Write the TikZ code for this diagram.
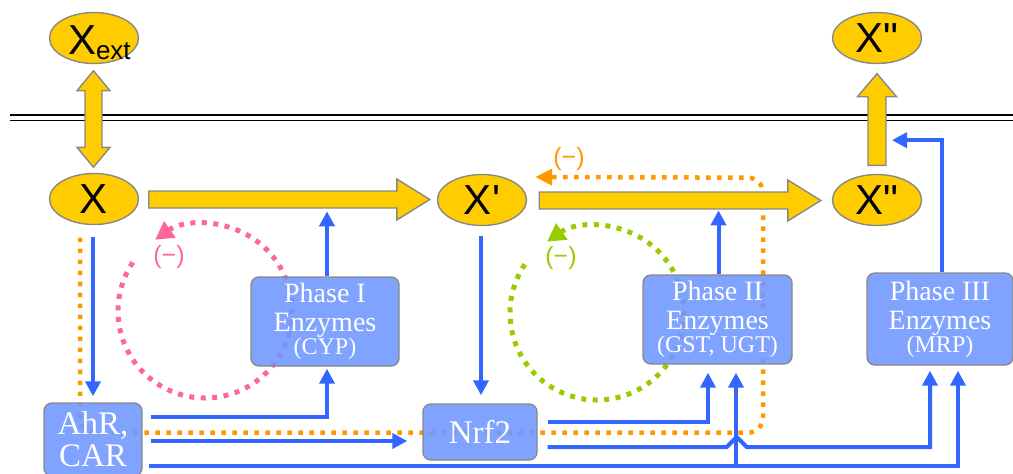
\documentclass[tikz,border=0pt]{standalone}
\usepackage{fontspec}
\setmainfont{Liberation Serif}
\newfontfamily\ellfont{Liberation Sans}[Ligatures=TeXOff]
\usetikzlibrary{arrows.meta,calc,shapes.geometric}
\definecolor{gold}{HTML}{FFCC00}
\definecolor{bl}{HTML}{3366FF}
\definecolor{boxc}{HTML}{6E96FF}
\definecolor{orng}{HTML}{FF9900}
\definecolor{pnk}{HTML}{FF6699}
\definecolor{grn}{HTML}{99CC00}
\definecolor{edge}{HTML}{888888}
\pgfdeclarelayer{back}
\pgfsetlayers{back,main}
\tikzset{
 ell/.style={ellipse, draw=edge, line width=1.4pt, fill=gold, minimum width=89pt, minimum height=51pt, inner sep=0pt, font=\ellfont\fontsize{42}{42}\selectfont},
 enz/.style={rounded corners=8pt, draw=edge, line width=1.4pt, fill=boxc, fill opacity=0.88, text opacity=1, text=white, align=center, inner sep=0pt, font=\fontsize{28}{29}\selectfont},
 blu/.style={draw=bl, line width=4pt, -{Triangle[width=15pt,length=15pt]}},
 fat/.style={draw=edge, line width=1.4pt, fill=gold, line join=miter},
 dots/.style={line width=5pt, dash pattern=on 5pt off 6.5pt},
 odots/.style={line width=4.5pt, dash pattern=on 4.5pt off 6.5pt},
 dottip/.style={-{Triangle[width=19pt,length=18pt]}},
 neg/.style={font=\ellfont\fontsize{25}{25}\selectfont, inner sep=0pt},
 membrane/.style={line width=1.8pt, draw=black},
}
% horizontal fat arrow: start, tip
\newcommand\hfat[2]{%
 \draw[fat] let \p1=#1, \p2=#2 in
  (\x1,{\y1+8.5pt}) -- ({\x2-33pt},{\y1+8.5pt}) -- ({\x2-33pt},{\y1+20.5pt}) -- (\x2,\y1)
  -- ({\x2-33pt},{\y1-20.5pt}) -- ({\x2-33pt},{\y1-8.5pt}) -- (\x1,{\y1-8.5pt}) -- cycle;}
\begin{document}
\begin{tikzpicture}[x=1pt,y=1pt]
\path[use as bounding box] (0,0) rectangle (1013,-474);

% ellipses
\node[ell] (Xext) at (94,-38) {\makebox[0pt][l]{\hspace*{-26pt}\raisebox{-16pt}[0pt][0pt]{X\raisebox{-5pt}{\fontsize{26}{26}\selectfont ext}}}};
\node[ell] (X) at (94,-199) {X};
\node[ell] (Xp) at (482,-200) {X'};
\node[ell] (Xpp) at (877,-200) {X"};
\node[ell] (Xout) at (877,-38) {X"};

% enzyme / receptor boxes
\node[enz, minimum width=98pt, minimum height=73pt, font=\fontsize{33}{32}\selectfont] (AhR) at (93,-439.5) {AhR,\\CAR};
\node[enz, minimum width=148pt, minimum height=89pt] (P1) at (325,-321.5) {Phase I\\Enzymes\\[-6pt]{\fontsize{24}{24}\selectfont (CYP)}};
\node[enz, minimum width=114pt, minimum height=56pt, font=\fontsize{33}{32}\selectfont] (Nrf2) at (480,-432) {Nrf2};
\node[enz, minimum width=149pt, minimum height=89pt] (P2) at (717.5,-319.5) {Phase II\\Enzymes\\[-6pt]{\fontsize{24}{24}\selectfont (GST, UGT)}};
\node[enz, minimum width=146pt, minimum height=92pt] (P3) at (940,-319) {Phase III\\Enzymes\\[-6pt]{\fontsize{24}{24}\selectfont (MRP)}};

% labels
\node[neg, text=pnk] (n1) at (169,-257) {(−)};
\node[neg, text=grn] (n2) at (561,-258) {(−)};
\node[neg, text=orng] (n3) at (569,-159) {(−)};

\begin{pgfonlayer}{back}
 \draw[membrane] (10,-115) -- (1013,-115);
 \draw[membrane] (10,-120.5) -- (1013,-120.5);
 \coordinate (C1) at (205,-311);
 \coordinate (C2) at (597,-313);
 \draw[dots, pnk, dottip] ($(C1)+(146:87)$) arc[start angle=146, end angle=485, radius=87];
 \draw[dots, grn, dottip] ($(C2)+(146:87)$) arc[start angle=146, end angle=485, radius=87];
 \draw[odots, orng, rounded corners=15pt, -{Triangle[width=16pt,length=17pt]}]
   ($(X.south)+(-14,-12.5)$) -- ++(0,-195) -- ++(683,0) -- ++(0,255) -- ($(Xp.east)+(8,23)$);
\end{pgfonlayer}

% fat transport / reaction arrows
\hfat{($(X.east)+(9.5,-0.5)$)}{($(Xp.west)+(-7,0)$)}
\hfat{($(Xp.east)+(12,-0.5)$)}{($(Xpp.west)+(-11,0)$)}
\draw[fat] let \p1=($(Xpp.north)+(0,8.5)$), \p2=($(Xout.south)+(0,-9.5)$) in
  ({\x1-9pt},\y1) -- ({\x1-9pt},{\y2-23pt}) -- ({\x1-19.5pt},{\y2-23pt}) -- (\x1,\y2)
  -- ({\x1+19.5pt},{\y2-23pt}) -- ({\x1+9pt},{\y2-23pt}) -- ({\x1+9pt},\y1) -- cycle;
\draw[fat] let \p1=($(Xext.south)+(-0.5,-6.5)$), \p2=($(X.north)+(-0.5,5.5)$) in
  (\x1,\y1) -- ({\x1+16.5pt},{\y1-20pt}) -- ({\x1+8.5pt},{\y1-20pt}) -- ({\x1+8.5pt},{\y2+20pt})
  -- ({\x1+16.5pt},{\y2+20pt}) -- (\x1,\y2) -- ({\x1-16.5pt},{\y2+20pt}) -- ({\x1-8.5pt},{\y2+20pt})
  -- ({\x1-8.5pt},{\y1-20pt}) -- ({\x1-16.5pt},{\y1-20pt}) -- cycle;

% blue regulatory arrows
\draw[blu] ($(X.south)+(-1,-12)$) -- ($(AhR.north)+(0,6)$);
\draw[blu] ($(Xp.south)+(-1,-10)$) -- ($(Nrf2.north)+(1,8)$);
\draw[blu] ($(AhR.east)+(8,22.5)$) -| ($(P1.south)+(2,-2)$);
\draw[blu] ($(AhR.east)+(8,-1.5)$) -- ($(Nrf2.west)+(-15,-9)$);
\draw[blu] ($(AhR.east)+(6,-26.5)$) -| ($(P3.south)+(18,-5)$);
\draw[blu] ($(P2.south)+(18.5,-102)$) -- ($(P2.south)+(18.5,-8)$);
\draw[blu] ($(Nrf2.east)+(10,10)$) -| ($(P2.south)+(-9.5,-8)$);
\draw[blu] ($(Nrf2.east)+(10,-15)$) -- ++(179,0) -- ++(10,10) -- ++(10,-10) -| ($(P3.south)+(-10,-5)$);
\draw[blu] ($(P1.north)+(2,0)$) -- ($(P1.north)+(2,65)$);
\draw[blu] ($(P2.north)+(1,0)$) -- ($(P2.north)+(1,64)$);
\draw[blu] ($(P3.north)+(2,0)$) |- ($(Xout.south)+(15,-76)$);
\end{tikzpicture}
\end{document}
